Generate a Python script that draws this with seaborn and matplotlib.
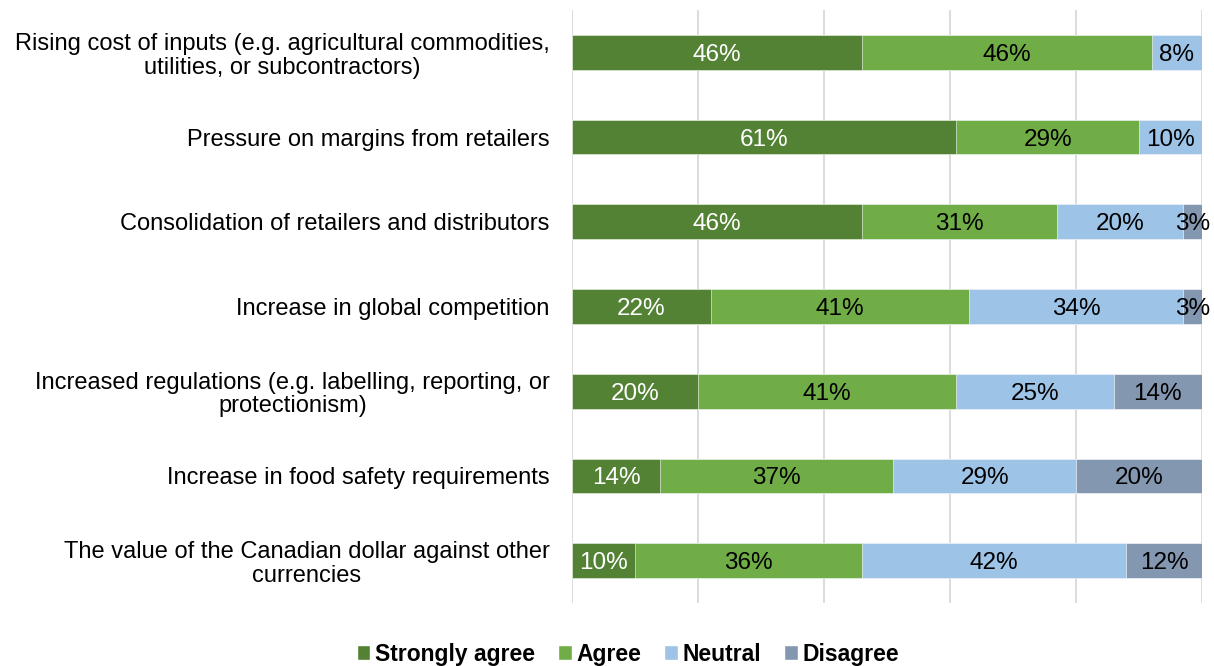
import matplotlib
matplotlib.use("Agg")
import matplotlib.pyplot as plt
import seaborn as sns
import pandas as pd
import numpy as np
from matplotlib.patches import Patch

categories = [
    "Rising cost of inputs (e.g. agricultural commodities,\nutilities, or subcontractors)",
    "Pressure on margins from retailers",
    "Consolidation of retailers and distributors",
    "Increase in global competition",
    "Increased regulations (e.g. labelling, reporting, or\nprotectionism)",
    "Increase in food safety requirements",
    "The value of the Canadian dollar against other\ncurrencies",
]
strongly_agree = [46, 61, 46, 22, 20, 14, 10]
agree = [46, 29, 31, 41, 41, 37, 36]
neutral = [8, 10, 20, 34, 25, 29, 42]
disagree = [0, 0, 3, 3, 14, 20, 12]

series_names = ["Strongly agree", "Agree", "Neutral", "Disagree"]
series_colors = ["#548235", "#70AD47", "#9DC3E6", "#8497B0"]
label_colors = ["white", "black", "black", "black"]

sns.set_theme(style="white")
plt.rcParams["font.family"] = ["Liberation Sans", "DejaVu Sans"]
plt.rcParams["text.color"] = "black"

values = np.array([strongly_agree, agree, neutral, disagree], dtype=float)
cumulative = np.cumsum(values, axis=0)

fig = plt.figure(figsize=(12.14, 6.66), dpi=100)
ax = fig.add_axes([0.4712, 0.0946, 0.5189, 0.8904])

# Stacked bars: draw running totals from the outermost segment inward
for i in range(len(series_names) - 1, -1, -1):
    df = pd.DataFrame({"category": categories, "total": cumulative[i]})
    sns.barplot(data=df, x="total", y="category", color=series_colors[i],
                orient="h", width=0.41, saturation=1, ax=ax,
                edgecolor="white", linewidth=0.4)

# Segment value labels
for i in range(len(series_names)):
    for j, cat in enumerate(categories):
        v = values[i, j]
        if v <= 0:
            continue
        center = cumulative[i, j] - v / 2
        ax.text(center, j, f"{int(v)}%", ha="center", va="center_baseline",
                fontsize=17.5, color=label_colors[i])

ax.set_xlim(0, 100)
ax.set_ylim(len(categories) - 0.5, -0.5)
ax.set_xticks([0, 20, 40, 60, 80, 100])
ax.set_xticklabels([])
ax.xaxis.grid(True, color="#D9D9D9", linewidth=1.3)
ax.set_axisbelow(True)
ax.tick_params(axis="y", length=0, pad=16, labelsize=17, labelcolor="black")
ax.tick_params(axis="x", length=0)
for lbl in ax.get_yticklabels():
    lbl.set_horizontalalignment("right")
    lbl.set_multialignment("center")
    lbl.set_linespacing(1.1)
ax.set_xlabel("")
ax.set_ylabel("")
for s in ax.spines.values():
    s.set_visible(False)

handles = [Patch(facecolor=c, label=n) for n, c in zip(series_names, series_colors)]
fig.legend(handles=handles, loc="center", bbox_to_anchor=(0.517, 0.018),
           ncol=4, frameon=False,
           prop={"weight": "bold", "size": 16.5},
           handlelength=0.6, handleheight=0.6, handletextpad=0.2,
           columnspacing=1.0)

fig.savefig("out.png", dpi=100)
